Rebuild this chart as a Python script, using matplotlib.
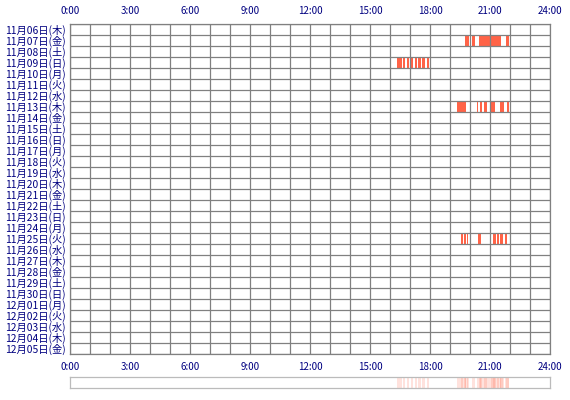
import matplotlib
matplotlib.use("Agg")
import matplotlib.pyplot as plt

plt.rcParams['font.family'] = ['Noto Sans CJK JP', 'DejaVu Sans']

days = ["11月06日(木)", "11月07日(金)", "11月08日(土)", "11月09日(日)", "11月10日(月)",
        "11月11日(火)", "11月12日(水)", "11月13日(木)", "11月14日(金)", "11月15日(土)",
        "11月16日(日)", "11月17日(月)", "11月18日(火)", "11月19日(水)", "11月20日(木)",
        "11月21日(金)", "11月22日(土)", "11月23日(日)", "11月24日(月)", "11月25日(火)",
        "11月26日(水)", "11月27日(木)", "11月28日(金)", "11月29日(土)", "11月30日(日)",
        "12月01日(月)", "12月02日(火)", "12月03日(水)", "12月04日(木)", "12月05日(金)"]

hour_ticks = [0, 3, 6, 9, 12, 15, 18, 21, 24]
hour_labels = ["0:00", "3:00", "6:00", "9:00", "12:00", "15:00", "18:00", "21:00", "24:00"]

# activity (start hour, end hour) per day index
active_07 = [(19.75, 19.95), (20.1, 20.23), (20.43, 21.53), (21.78, 21.95)]
active_09 = [(16.35, 16.6), (16.67, 16.77), (16.83, 16.93), (17.07, 17.17),
             (17.23, 17.33), (17.4, 17.53), (17.6, 17.73), (17.83, 17.97)]
active_13 = [(19.35, 19.8), (20.35, 20.42), (20.5, 20.58), (20.7, 20.87),
             (21.05, 21.25), (21.5, 21.7), (21.83, 21.95)]
active_25 = [(19.55, 19.67), (19.7, 19.8), (19.83, 19.92), (20.38, 20.53),
             (21.13, 21.28), (21.33, 21.45), (21.5, 21.65), (21.77, 21.83)]
activity = {1: active_07, 3: active_09, 7: active_13, 19: active_25}

bar_color = "#ff6347"
grid_color = "#808080"
text_color = "#000080"

fig = plt.figure(figsize=(5.7, 4.0), dpi=100)
ax = fig.add_axes([70/570, 46/400, 480/570, 330/400])

for row, segs in activity.items():
    ax.broken_barh([(s, e - s) for s, e in segs], (row, 1), facecolors=bar_color,
                   linewidth=0, zorder=1)

ax.set_xlim(0, 24)
ax.set_ylim(len(days), 0)
ax.xaxis.remove_overlapping_locs = False
ax.set_xticks(hour_ticks)
ax.set_xticklabels(hour_labels)
ax.set_xticks(range(25), minor=True)
ax.set_yticks([i + 0.5 for i in range(len(days))])
ax.set_yticklabels(days)
ax.set_yticks(range(len(days) + 1), minor=True)
ax.tick_params(axis='x', which='both', length=0, top=True, labeltop=True,
               labelsize=7, colors=text_color, pad=6)
ax.tick_params(axis='y', which='both', length=0, labelsize=7.4, colors=text_color, pad=3)
ax.grid(which='major', visible=False)
ax.grid(which='minor', color=grid_color, linewidth=0.9)
ax.set_axisbelow(False)
for sp in ax.spines.values():
    sp.set_color(grid_color)
    sp.set_linewidth(0.9)

# summary strip
ax2 = fig.add_axes([70/570, 12/400, 480/570, 11/400])
for row, segs in activity.items():
    ax2.broken_barh([(s, e - s) for s, e in segs], (0, 1), facecolors=bar_color,
                    alpha=0.18, linewidth=0)
ax2.set_xlim(0, 24)
ax2.set_ylim(0, 1)
ax2.set_xticks([])
ax2.set_yticks([])
for sp in ax2.spines.values():
    sp.set_color("#bbbbbb")
    sp.set_linewidth(0.9)

fig.savefig("out.png", dpi=100)
